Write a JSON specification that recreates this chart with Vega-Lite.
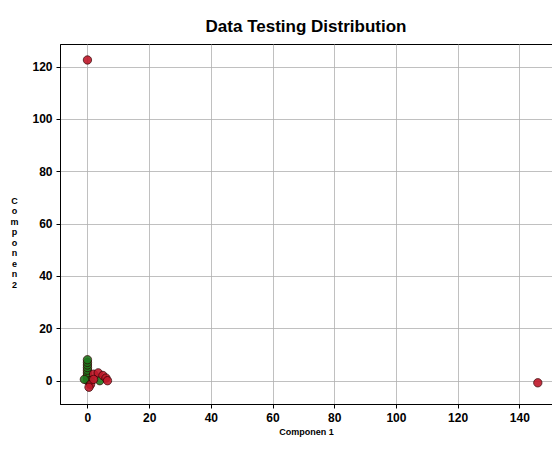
{
  "$schema": "https://vega.github.io/schema/vega-lite/v6.json",
  "width": 492,
  "height": 360,
  "autosize": {"type": "none"},
  "padding": {"left": 60, "top": 44, "right": 0, "bottom": 45},
  "background": "white",
  "title": {
    "text": "Data Testing Distribution",
    "fontSize": 17,
    "font": "Liberation Sans",
    "fontWeight": "bold",
    "color": "#000000",
    "anchor": "middle",
    "offset": 8
  },
  "data": {
    "values": [
      {"x": 0, "y": 0, "label": "green"},
      {"x": 0, "y": 1, "label": "green"},
      {"x": 0, "y": 2, "label": "green"},
      {"x": 0, "y": 3, "label": "green"},
      {"x": 0, "y": 4, "label": "green"},
      {"x": 0, "y": 5, "label": "green"},
      {"x": 0, "y": 6, "label": "green"},
      {"x": 0, "y": 7, "label": "green"},
      {"x": 0, "y": 8, "label": "green"},
      {"x": 1, "y": 0, "label": "green"},
      {"x": 4, "y": 0, "label": "green"},
      {"x": -1, "y": 0.5, "label": "green"},
      {"x": 0, "y": 122.5, "label": "red"},
      {"x": 146, "y": -0.8, "label": "red"},
      {"x": 2, "y": 2.5, "label": "red"},
      {"x": 3.5, "y": 3, "label": "red"},
      {"x": 5, "y": 2, "label": "red"},
      {"x": 6, "y": 1, "label": "red"},
      {"x": 6.5, "y": 0, "label": "red"},
      {"x": 1, "y": -1.5, "label": "red"},
      {"x": 0.5, "y": -2.5, "label": "red"},
      {"x": 2, "y": 0.5, "label": "red"}
    ]
  },
  "mark": {"type": "circle", "size": 70, "opacity": 0.9, "stroke": "#300000", "strokeWidth": 0.8, "clip": true},
  "encoding": {
    "x": {
      "field": "x", "type": "quantitative",
      "scale": {"domain": [-8.9, 150.6], "nice": false, "zero": false},
      "axis": {
        "values": [0, 20, 40, 60, 80, 100, 120, 140],
        "title": "Componen 1",
        "titleFontSize": 9, "titleFont": "Liberation Sans", "titleFontWeight": "bold", "titleColor": "#000",
        "titlePadding": 4,
        "labelFontSize": 12, "labelFont": "Liberation Sans", "labelFontWeight": "bold", "labelColor": "#000",
        "grid": true, "gridColor": "#b0b0b0", "gridWidth": 0.8,
        "domainColor": "#000", "tickColor": "#000", "tickSize": 4, "labelPadding": 4
      }
    },
    "y": {
      "field": "y", "type": "quantitative",
      "scale": {"domain": [-8.9, 128.6], "nice": false, "zero": false},
      "axis": {
        "values": [0, 20, 40, 60, 80, 100, 120],
        "title": ["C", "o", "m", "p", "o", "n", "e", "n", "2"],
        "titleAngle": 0, "titleAlign": "center", "titleBaseline": "top",
        "titleX": -46, "titleY": 152, "titleLineHeight": 10.5,
        "titleFontSize": 9, "titleFont": "Liberation Sans", "titleFontWeight": "bold", "titleColor": "#000",
        "labelFontSize": 12, "labelFont": "Liberation Sans", "labelFontWeight": "bold", "labelColor": "#000",
        "grid": true, "gridColor": "#b0b0b0", "gridWidth": 0.8,
        "domainColor": "#000", "tickColor": "#000", "tickSize": 4, "labelPadding": 4
      }
    },
    "color": {
      "field": "label", "type": "nominal",
      "scale": {"domain": ["green", "red"], "range": ["#1f7a1f", "#c0182a"]},
      "legend": null
    }
  },
  "config": {
    "view": {"stroke": "#000", "strokeWidth": 1}
  }
}
